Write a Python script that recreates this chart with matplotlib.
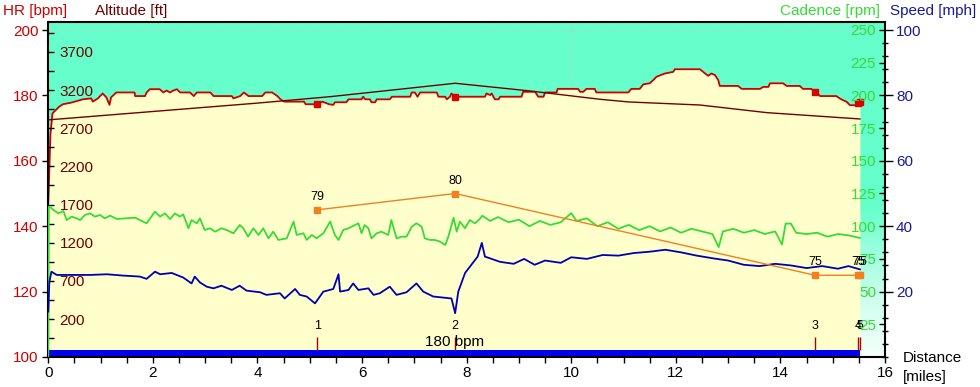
import numpy as np
import matplotlib
matplotlib.use('Agg')
import matplotlib.pyplot as plt
from matplotlib.ticker import MultipleLocator
from matplotlib.transforms import blended_transform_factory
from matplotlib.colors import LinearSegmentedColormap
from matplotlib.patches import Rectangle

plt.rcParams['font.family'] = ['Liberation Sans', 'DejaVu Sans']

# ---------------- data ----------------
hr_dist = [0.00, 0.02, 0.04, 0.08, 0.21, 0.28, 0.44, 0.66, 0.82, 0.85, 0.95, 1.04, 1.11, 1.17, 1.20,
           1.30, 1.65, 1.66, 1.85, 1.88, 1.94, 2.13, 2.20, 2.26, 2.33, 2.39, 2.46, 2.52, 2.71, 2.78,
           2.84, 3.10, 3.16, 3.51, 3.54, 3.67, 3.74, 3.83, 4.09, 4.15, 4.28, 4.38, 4.44, 4.51, 4.89,
           4.92, 5.15, 5.24, 5.37, 5.45, 5.48, 5.70, 5.74, 5.99, 6.02, 6.06, 6.15, 6.18, 6.25, 6.28,
           6.53, 6.57, 6.92, 6.95, 7.01, 7.06, 7.11, 7.43, 7.46, 7.59, 7.62, 7.68, 7.71, 7.78, 8.35,
           8.38, 8.45, 8.48, 8.51, 8.54, 8.61, 8.64, 9.05, 9.08, 9.31, 9.34, 9.37, 9.47, 9.50, 9.72,
           9.74, 10.13, 10.17, 10.23, 10.29, 10.45, 10.48, 11.09, 11.15, 11.31, 11.38, 11.50, 11.57,
           11.63, 11.79, 11.95, 11.98, 12.46, 12.56, 12.62, 12.68, 12.75, 12.81, 12.84, 13.19, 13.26,
           13.61, 13.67, 13.77, 13.80, 14.05, 14.12, 14.37, 14.43, 14.59, 14.66, 14.76, 15.07, 15.14,
           15.27, 15.33, 15.43, 15.49, 15.52]
hr_bpm = [147.0, 158.0, 168.0, 174.5, 176.6, 177.3, 177.8, 178.8, 179.1, 178.1, 179.1, 180.6, 179.4, 177.1, 179.4,
          180.9, 180.9, 179.8, 179.8, 180.9, 181.9, 181.9, 180.9, 181.5, 180.9, 181.5, 181.9, 180.9, 180.9, 179.8,
          180.9, 180.9, 179.8, 179.8, 179.1, 179.8, 180.9, 179.8, 179.8, 180.9, 180.9, 179.8, 178.8, 178.1, 178.1,
          177.3, 177.3, 178.1, 177.3, 177.1, 177.9, 177.9, 178.8, 178.8, 179.6, 178.8, 178.8, 177.9, 177.9, 178.8,
          178.8, 179.6, 179.6, 180.9, 180.9, 179.6, 180.9, 180.9, 179.6, 179.6, 178.8, 179.6, 180.6, 179.6, 179.6,
          180.6, 180.1, 180.6, 179.6, 178.8, 178.8, 179.6, 179.6, 181.1, 181.1, 180.3, 179.6, 179.6, 180.9, 180.9,
          182.0, 182.0, 181.1, 181.1, 182.0, 182.0, 180.9, 180.9, 182.0, 182.0, 183.4, 183.7, 184.7,
          185.7, 186.7, 187.2, 188.0, 188.0, 186.7, 186.0, 186.7, 186.2, 184.7, 182.9, 182.9, 182.0,
          182.0, 182.6, 182.6, 183.7, 183.7, 182.9, 182.9, 182.0, 182.0, 181.1, 179.8, 179.8, 179.0,
          178.0, 177.0, 177.0, 177.8, 178.0]

alt_dist = [0.0, 2.0, 4.0, 5.4, 6.9, 7.78, 9.2, 10.55, 11.1, 12.46, 13.74, 15.52]
alt_ft = [2810, 2920, 3030, 3115, 3225, 3290, 3190, 3080, 3045, 3005, 2905, 2822]

cad_dist = [0.00, 0.01, 0.03, 0.10, 0.19, 0.29, 0.35, 0.45, 0.54, 0.61, 0.70, 0.80, 0.89, 0.99, 1.08, 1.18,
            1.31, 1.50, 1.66, 1.75, 1.88, 2.04, 2.14, 2.23, 2.33, 2.42, 2.52, 2.58, 2.68, 2.74, 2.84,
            2.90, 2.99, 3.09, 3.19, 3.31, 3.41, 3.54, 3.66, 3.73, 3.82, 3.92, 4.02, 4.11, 4.21, 4.30,
            4.40, 4.56, 4.69, 4.75, 4.88, 4.94, 5.04, 5.13, 5.26, 5.39, 5.48, 5.55, 5.64, 5.74, 5.80,
            5.93, 5.99, 6.05, 6.12, 6.18, 6.28, 6.37, 6.50, 6.56, 6.66, 6.76, 6.85, 6.95, 7.04, 7.14,
            7.20, 7.30, 7.39, 7.49, 7.59, 7.65, 7.75, 7.81, 7.87, 7.97, 8.06, 8.16, 8.25, 8.30, 8.45,
            8.60, 8.80, 9.00, 9.20, 9.40, 9.60, 9.80, 10.00, 10.10, 10.30, 10.50, 10.70, 10.90, 11.10,
            11.30, 11.50, 11.70, 11.90, 12.10, 12.30, 12.50, 12.70, 12.82, 12.90, 13.10, 13.30, 13.50,
            13.70, 13.90, 14.03, 14.10, 14.20, 14.30, 14.50, 14.70, 14.90, 15.10, 15.30, 15.52]
cad_rpm = [0.0, 114.9, 114.9, 112.4, 109.8, 111.6, 104.7, 107.3, 106.0, 104.7, 108.6, 109.8, 107.3, 108.6, 106.0, 108.1,
           105.5, 106.0, 106.5, 104.7, 102.2, 111.1, 107.3, 109.8, 105.5, 109.8, 107.3, 109.1, 98.4, 104.7, 102.2,
           106.0, 97.1, 98.4, 95.8, 98.4, 97.1, 94.6, 100.9, 98.4, 92.0, 98.4, 93.3, 98.4, 90.7, 95.8,
           89.5, 90.7, 103.5, 93.3, 94.6, 89.5, 93.3, 90.7, 94.6, 103.5, 93.3, 89.5, 97.1, 98.4, 99.6,
           102.2, 94.6, 100.9, 98.4, 90.7, 94.6, 95.8, 93.3, 104.7, 90.7, 92.0, 92.0, 99.6, 102.2, 99.6,
           90.7, 89.5, 89.5, 88.2, 85.6, 92.0, 106.5, 95.8, 103.5, 98.4, 104.7, 102.2, 105.5, 108.0, 104.0,
           107.0, 103.0, 105.0, 100.0, 104.0, 101.0, 103.0, 110.0, 104.0, 106.0, 100.0, 103.0, 98.0, 101.0,
           97.0, 100.0, 96.0, 99.0, 95.0, 98.0, 96.0, 94.0, 84.0, 96.0, 98.0, 95.0, 97.0,
           94.0, 96.0, 86.0, 102.0, 102.0, 95.0, 94.0, 95.0, 92.0, 94.0, 93.0, 91.0]

spd_dist = [0.00, 0.02, 0.06, 0.16, 0.48, 0.80, 1.12, 1.43, 1.75, 1.88, 2.04, 2.14, 2.36, 2.58, 2.74, 2.80,
            2.90, 3.03, 3.16, 3.31, 3.51, 3.66, 3.79, 4.05, 4.17, 4.43, 4.52, 4.72, 4.81, 4.94, 5.10,
            5.26, 5.45, 5.55, 5.58, 5.74, 5.83, 5.93, 6.12, 6.22, 6.34, 6.53, 6.66, 6.85, 7.04, 7.17,
            7.36, 7.71, 7.78, 7.84, 7.97, 8.21, 8.29, 8.35, 8.64, 8.90, 9.10, 9.30, 9.50, 9.80, 10.00,
            10.30, 10.60, 10.90, 11.20, 11.50, 11.80, 12.10, 12.40, 12.70, 13.00, 13.30, 13.60, 13.90,
            14.20, 14.50, 14.80, 15.10, 15.30, 15.52]
spd_mph = [13.9, 23.0, 26.1, 25.1, 25.1, 25.1, 25.3, 24.9, 24.6, 23.9, 26.1, 25.3, 25.7, 24.3, 22.5, 24.6,
           22.8, 21.5, 21.0, 21.8, 20.5, 21.8, 20.3, 19.8, 19.0, 19.5, 17.9, 20.8, 19.0, 18.5, 16.4,
           20.0, 20.8, 25.3, 20.0, 20.5, 22.5, 20.5, 21.0, 19.0, 19.5, 21.5, 19.0, 19.8, 22.5, 20.0,
           18.5, 17.9, 13.4, 20.0, 25.7, 30.7, 34.9, 30.7, 29.1, 28.5, 30.0, 28.2, 29.5, 28.8, 30.5,
           30.0, 31.2, 31.0, 31.8, 32.2, 32.8, 32.0, 31.0, 30.2, 29.5, 28.2, 27.8, 28.5,
           28.0, 27.2, 27.8, 27.0, 27.8, 26.8]

lap_dist = [5.14, 7.78, 14.66, 15.48, 15.52]
lap_num = ['1', '2', '3', '4', '5']
lap_val = [79, 80, 75, 75, 75]
lap_hr = [177.3, 179.6, 181.1, 177.8, 178.0]
zone_label = '180 bpm'

x_ticks = [0, 2, 4, 6, 8, 10, 12, 14, 16]
hr_ticks = [100, 120, 140, 160, 180, 200]
alt_ticks = [200, 700, 1200, 1700, 2200, 2700, 3200, 3700]
cad_ticks = [25, 50, 75, 100, 125, 150, 175, 200, 225, 250]
spd_ticks = [20, 40, 60, 80, 100]

# ---------------- colours ----------------
C_HR = '#CC0000'
C_ALT = '#700000'
C_CAD = '#33DD33'
C_SPD = '#0000B0'
C_SPD_TXT = '#1A1A99'
C_LAP = '#F08020'
C_AQUA = '#66FFCC'
C_YEL = '#FFFFCC'

fig = plt.figure(figsize=(9.8, 3.87), dpi=100)
L, R, B, T = 48.3 / 980, 885 / 980, 30 / 387, 365 / 387
ax = fig.add_axes([L, B, R - L, T - B])

# background gradient
cmap = LinearSegmentedColormap.from_list(
    'bg', [(0.0, '#F6FFFB'), (0.18, '#CCFFEE'), (0.32, '#99FFDD'), (0.45, C_AQUA), (1.0, C_AQUA)])
grad = np.linspace(0, 1, 256).reshape(-1, 1)
ax.imshow(grad, extent=[0, 1, 0, 1], transform=ax.transAxes, origin='lower',
          aspect='auto', cmap=cmap, zorder=0, interpolation='bilinear')

ax.set_xlim(0, 16)
ax.set_ylim(100, 202.45)

# grid lines (under the fill)
ax.axvline(10, color='#C8C8C8', lw=1, ls=(0, (1, 2)), zorder=1)
ax.axhline(200, color='#C8C8C8', lw=1, ls=(0, (1, 2)), zorder=1)

ax.fill_between(hr_dist, 100, hr_bpm, color=C_YEL, lw=0, zorder=2)
ax.plot(hr_dist, hr_bpm, color=C_HR, lw=1.3, zorder=6)
ax.plot(lap_dist, lap_hr, ls='none', marker='s', ms=4, color='#DD0000', zorder=7)

# zone bar and lap markers along the bottom
trans = blended_transform_factory(ax.transData, ax.transAxes)
ax.add_patch(Rectangle((0, 0), max(hr_dist), 0.021, transform=trans,
                       color='#0000EE', lw=0, zorder=8))
ax.vlines(lap_dist, 0.021, 0.06, transform=trans, color='#AA0000', lw=1, zorder=8)
for d, n in zip(lap_dist, lap_num):
    ax.text(d, 0.093, n, transform=trans, ha='center', va='center', fontsize=9, color='black', zorder=9)
ax.text(max(hr_dist) / 2, 0.045, zone_label, transform=trans, ha='center', va='center',
        fontsize=11, color='black', zorder=9)

# HR axis (left, outer)
ax.set_yticks(hr_ticks)
ax.tick_params(axis='y', which='major', direction='out', length=4.5, width=1, pad=2.5,
               colors='black', labelcolor=C_HR, labelsize=11)
ax.set_xticks(x_ticks)
ax.xaxis.set_minor_locator(MultipleLocator(0.5))
ax.tick_params(axis='x', which='major', direction='out', length=4.5, width=1, pad=2, labelsize=11)
ax.tick_params(axis='x', which='minor', direction='out', length=4, width=1)
for s in ax.spines.values():
    s.set_color('black')
    s.set_linewidth(1.5)
    s.set_zorder(20)

# Altitude axis (left, labels inside)
ax_alt = ax.twinx()
ax_alt.set_ylim(-298, 4093)
ax_alt.plot(alt_dist, alt_ft, color=C_ALT, lw=1.0, zorder=5)
ax_alt.yaxis.tick_left()
ax_alt.set_yticks(alt_ticks)
ax_alt.yaxis.set_minor_locator(MultipleLocator(250, offset=200))
ax_alt.tick_params(axis='y', which='both', direction='in', left=True, right=False,
                   labelleft=True, labelright=False, length=4, width=1,
                   pad=-8, labelcolor=C_ALT, labelsize=11)
plt.setp(ax_alt.get_yticklabels(), ha='left')

# Cadence axis (right, labels inside)
ax_cad = ax.twinx()
ax_cad.set_ylim(0, 256.1)
ax_cad.plot(cad_dist, cad_rpm, color=C_CAD, lw=1.3, zorder=5)
ax_cad.set_yticks(cad_ticks)
ax_cad.tick_params(axis='y', which='major', direction='in', length=4, width=1,
                   pad=-6.5, labelcolor=C_CAD, labelsize=11)
plt.setp(ax_cad.get_yticklabels(), ha='right')

# Speed axis (right, outer)
ax_spd = ax.twinx()
ax_spd.set_ylim(0, 102.45)
ax_spd.plot(spd_dist, spd_mph, color=C_SPD, lw=1.3, zorder=5)
ax_spd.set_yticks(spd_ticks)
ax_spd.yaxis.set_minor_locator(MultipleLocator(4))
ax_spd.tick_params(axis='y', which='major', direction='out', length=6, width=1,
                   pad=2, labelcolor=C_SPD_TXT, labelsize=11)
ax_spd.tick_params(axis='y', which='minor', direction='inout', length=5, width=1)

# Lap value axis (hidden)
ax_lap = ax.twinx()
ax_lap.set_ylim(70, 90.49)
ax_lap.plot(lap_dist, lap_val, color=C_LAP, lw=1, marker='s', ms=4, zorder=6)
for d, v in zip(lap_dist, lap_val):
    ax_lap.annotate(str(v), (d, v), xytext=(0, 5), textcoords='offset points',
                    ha='center', va='bottom', fontsize=9, color='black')
ax_lap.set_yticks([])

for a in (ax_alt, ax_cad, ax_spd, ax_lap):
    for s in a.spines.values():
        s.set_visible(False)
    a.set_xlim(0, 16)

# axis titles
fig.text(3 / 980, 1 - 11 / 387, 'HR [bpm]', color=C_HR, fontsize=11, ha='left', va='center')
fig.text(95 / 980, 1 - 11 / 387, 'Altitude [ft]', color=C_ALT, fontsize=11, ha='left', va='center')
fig.text(880 / 980, 1 - 11 / 387, 'Cadence [rpm]', color=C_CAD, fontsize=11, ha='right', va='center')
fig.text(890 / 980, 1 - 11 / 387, 'Speed [mph]', color=C_SPD_TXT, fontsize=11, ha='left', va='center')
fig.text(903 / 980, 1 - 358 / 387, 'Distance', color='black', fontsize=11, ha='left', va='center')
fig.text(903 / 980, 1 - 377 / 387, '[miles]', color='black', fontsize=11, ha='left', va='center')

fig.savefig('out.png', dpi=100)
